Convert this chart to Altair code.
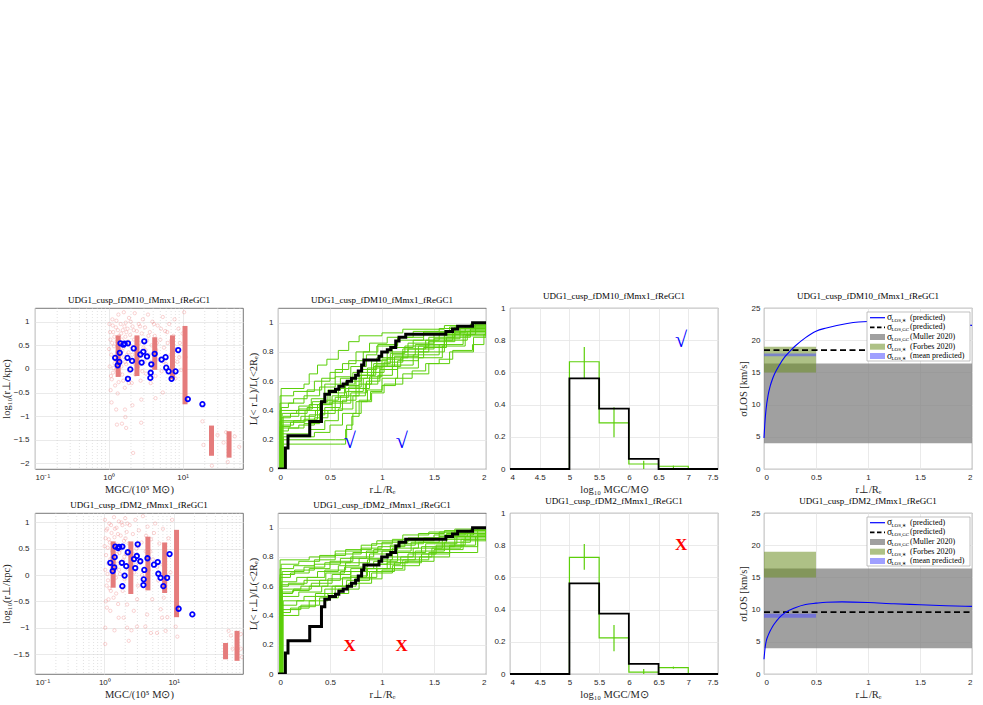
import altair as alt
import pandas as pd

# ------------------------------------------------------------------ data
TITLE_A = "UDG1_cusp_fDM10_fMmx1_fReGC1"
TITLE_B = "UDG1_cusp_fDM2_fMmx1_fReGC1"

# observed globular clusters: mass [1e5 Msun] and log10 projected radius [kpc]
gc_mass = [1.22, 1.32, 1.39, 1.41, 1.44, 1.58, 1.64, 1.82, 1.79, 1.82, 1.96, 2.07,
           2.18, 2.68, 2.79, 2.94, 3.03, 3.30, 3.70, 3.77, 3.66, 4.19, 5.20, 5.89,
           6.01, 6.47, 7.10, 8.04, 8.73, 11.8, 18.6]
gc_logr = [0.234, 0.076, 0.148, 0.341, 0.542, 0.513, 0.535, 0.542, 0.234, -0.21, -0.01, 0.17,
           0.434, 0.305, 0.134, 0.363, 0.585, 0.263, -0.081, 0.098, -0.19, 0.32, 0.198, 0.248,
           0.026, -0.052, -0.21, -0.052, 0.399, -0.64, -0.747]

# radial spread of simulated GCs per mass bin
bars_a_mass = [1.34, 2.41, 4.20, 7.30, 10.8, 24.7, 42.7]
bars_a_lo = [-0.17, -0.15, -0.02, -0.22, -0.75, -1.84, -1.88]
bars_a_hi = [0.71, 0.71, 0.67, 0.71, 0.91, -1.20, -1.32]
bars_b_mass = [1.34, 2.41, 4.25, 7.41, 11.0, 56.0, 82.0]
bars_b_lo = [-0.24, -0.36, -0.29, -0.34, -0.80, -1.60, -1.63]
bars_b_hi = [0.64, 0.64, 0.73, 0.62, 0.86, -1.29, -1.06]

# simulated GC realisations (mass, log10 r)
cloud_a = [
    (1.02, 0.95), (1.05, 0.62), (1.08, 0.30), (1.03, 0.05), (1.10, -0.22), (1.06, -0.45),
    (1.12, 1.05), (1.15, 0.78), (1.18, 0.48), (1.20, 0.12), (1.14, -0.08), (1.22, -0.35),
    (1.25, 0.88), (1.28, 0.58), (1.30, 0.35), (1.26, -0.02), (1.32, -0.52), (1.35, 1.15),
    (1.38, 0.70), (1.40, 0.40), (1.42, 0.20), (1.36, -0.28), (1.45, 0.95), (1.50, 0.62),
    (1.48, 0.05), (1.52, -0.12), (1.55, 0.82), (1.58, 0.45), (1.60, 1.20), (1.62, 0.25),
    (1.65, -0.40), (1.68, 0.68), (1.70, 0.98), (1.72, 0.10), (1.75, 0.55), (1.78, -0.18),
    (1.80, 0.85), (1.85, 0.35), (1.88, 1.08), (1.90, -0.05), (1.95, 0.72), (2.00, 0.48),
    (2.05, -0.30), (2.10, 0.90), (2.15, 0.18), (2.20, 0.62), (2.25, 1.18), (2.30, -0.12),
    (2.35, 0.40), (2.40, 0.80), (2.50, 0.05), (2.55, 0.95), (2.60, 0.55), (2.70, -0.25),
    (2.75, 0.28), (2.80, 0.75), (2.90, 1.05), (2.95, 0.45), (3.05, 0.15), (3.10, 0.88),
    (3.20, -0.10), (3.30, 0.60), (3.40, 1.15), (3.50, 0.30), (3.60, 0.78), (3.70, -0.30),
    (3.80, 0.50), (3.90, 1.00), (4.00, 0.05), (4.20, 0.70), (4.30, -0.15), (4.40, 0.40),
    (4.60, 0.92), (4.80, 0.20), (5.00, 0.62), (5.20, -0.05), (5.40, 1.10), (5.60, 0.45),
    (5.80, 0.80), (6.00, 0.10), (6.30, 0.55), (6.60, 0.95), (6.90, 0.30), (7.20, -0.12),
    (7.50, 0.70), (7.80, 1.05), (8.10, 0.40), (8.50, 0.15), (8.80, 0.85), (9.20, 0.55),
    (9.60, -0.02), (10.0, 0.75), (10.5, 1.20), (11.0, 0.25),
    (1.01, 0.42), (1.04, 0.78), (1.07, -0.15), (1.11, 0.55), (1.13, 0.92), (1.16, 0.02),
    (1.19, 0.68), (1.23, 0.25), (1.27, 1.02), (1.31, 0.15), (1.33, 0.82), (1.37, 0.50),
    (1.41, -0.10), (1.44, 0.30), (1.47, 0.75), (1.53, 0.38), (1.57, -0.25), (1.63, 0.90),
    (1.67, 0.15), (1.73, 0.78), (1.77, 0.30), (1.83, 0.58), (1.87, -0.30), (1.93, 0.20),
    (1.98, 1.00), (2.08, 0.30), (2.18, 0.82), (2.28, 0.10), (2.45, 0.65), (2.65, 0.90),
    (2.85, -0.05), (3.15, 0.40), (3.45, 0.70), (3.75, 0.15), (4.10, 0.95), (4.50, 0.55),
    (5.10, 0.85), (5.50, 0.15), (6.20, 0.78), (7.00, 0.60), (8.00, -0.20), (9.00, 0.25),
    (1.09, -0.71), (1.26, -0.86), (1.66, -0.86), (1.29, -1.18), (1.51, -1.16), (1.72, -1.25),
    (1.68, -1.02), (2.09, -0.77), (2.76, -0.65), (2.75, -1.14), (2.14, -1.78), (4.30, -0.62),
    (5.40, -0.50), (18.6, -1.11), (19.2, -1.61), (29.8, -1.40), (39.0, -1.34), (36.0, -1.56),
    (41.0, -1.97), (51.0, -1.43), (58.6, -1.65), (25.0, -2.05),
]
cloud_b = [
    (1.02, 1.05), (1.04, 0.70), (1.06, 0.38), (1.03, 0.10), (1.08, -0.20), (1.05, -0.50),
    (1.09, -0.62), (1.03, -1.00), (1.03, -1.31), (1.10, 0.88), (1.12, 0.52), (1.14, 0.22),
    (1.13, -0.10), (1.15, -0.46), (1.18, 0.98), (1.20, 0.62), (1.22, 0.30), (1.22, -0.68),
    (1.24, -0.30), (1.27, 0.80), (1.30, 0.45), (1.32, 0.05), (1.34, -0.15), (1.36, -0.43),
    (1.38, 1.10), (1.40, 0.72), (1.40, -1.05), (1.43, 0.35), (1.46, 0.12), (1.48, -0.35),
    (1.50, 0.90), (1.53, 0.58), (1.56, 0.22), (1.58, -0.55), (1.61, -0.81), (1.62, 1.02),
    (1.65, 0.42), (1.68, 0.02), (1.72, 0.75), (1.75, -0.22), (1.78, 0.55), (1.82, 0.95),
    (1.86, 0.28), (1.90, -0.81), (1.92, 0.65), (1.96, -0.08), (2.00, 1.08), (2.05, 0.40),
    (2.10, 0.82), (2.13, -0.56), (2.13, -1.00), (2.18, 0.12), (2.25, -1.25), (2.25, 0.60),
    (2.32, 0.95), (2.40, -0.30), (2.46, -1.05), (2.50, 0.30), (2.58, 0.78), (2.66, -0.68),
    (2.70, 0.05), (2.80, 1.05), (2.90, 0.50), (2.96, -0.98), (2.97, -0.46), (3.05, -0.20),
    (3.15, 0.85), (3.30, 0.25), (3.45, 0.62), (3.60, 1.12), (3.75, -0.12), (3.90, -0.98),
    (3.95, 0.45), (4.14, -0.75), (4.20, 0.92), (4.40, 0.10), (4.70, -1.10), (4.70, 0.68),
    (4.90, -0.46), (5.00, 0.30), (5.40, 0.98), (5.76, -1.10), (5.80, 0.15), (6.20, 0.60),
    (6.50, -0.65), (6.80, -0.81), (7.00, 0.88), (7.20, -0.43), (7.50, 0.35), (7.65, -1.06),
    (8.10, -0.80), (8.40, 0.70), (9.00, 0.05), (9.50, 1.05), (10.7, -0.98), (11.3, -1.17),
    (62.0, -1.06), (67.0, -1.15), (71.0, -1.40), (93.0, -1.12), (93.0, -1.40), (97.0, -1.56),
    (1.01, 0.55), (1.07, 0.85), (1.11, 0.02), (1.16, 0.68), (1.19, -0.25), (1.25, 0.95),
    (1.28, 0.15), (1.33, 0.60), (1.37, 0.25), (1.42, 0.88), (1.47, -0.05), (1.52, 0.40),
    (1.57, 0.78), (1.63, 0.10), (1.70, 0.48), (1.77, 1.00), (1.84, -0.30), (1.94, 0.35),
    (2.02, 0.70), (2.15, 0.98), (2.28, 0.20), (2.45, 0.55), (2.62, 0.40), (2.85, 0.20),
    (3.10, 0.55), (3.50, 0.00), (4.00, 0.75), (4.60, 0.45), (5.20, 0.80), (6.00, -0.10),
    (6.90, 0.20),
]

# observed cumulative luminosity profile L(<r)/L(<2Re)
obs_cum = [(0.0, 0.0), (0.071, 0.143), (0.096, 0.227), (0.305, 0.325), (0.418, 0.46),
           (0.45, 0.51), (0.495, 0.53), (0.553, 0.545), (0.585, 0.565), (0.627, 0.58),
           (0.666, 0.60), (0.707, 0.62), (0.746, 0.64), (0.772, 0.67), (0.804, 0.71),
           (0.826, 0.745), (0.971, 0.77), (0.997, 0.80), (1.051, 0.815), (1.084, 0.83),
           (1.132, 0.875), (1.164, 0.90), (1.228, 0.92), (1.614, 0.94), (1.678, 0.957),
           (1.727, 0.975), (1.871, 1.0), (2.0, 1.0)]

# simulated cumulative profiles, fDM10
sim_cum_a = [
    [(0, 0), (0.03, 0.55), (0.25, 0.58), (0.30, 0.65), (0.38, 0.71), (0.47, 0.75), (0.58, 0.81), (0.68, 0.87), (0.78, 0.91), (1.0, 0.93), (1.2, 0.955), (1.6, 0.98), (1.85, 0.99), (2, 1)],
    [(0, 0), (0.02, 0.50), (0.15, 0.53), (0.35, 0.60), (0.50, 0.66), (0.62, 0.72), (0.75, 0.80), (0.88, 0.86), (1.05, 0.90), (1.3, 0.94), (1.55, 0.96), (1.8, 0.98), (2, 1)],
    [(0, 0), (0.03, 0.42), (0.10, 0.45), (0.25, 0.50), (0.40, 0.56), (0.55, 0.63), (0.70, 0.70), (0.85, 0.78), (0.95, 0.84), (1.15, 0.88), (1.4, 0.93), (1.65, 0.97), (1.9, 0.99), (2, 1)],
    [(0, 0), (0.02, 0.40), (0.20, 0.43), (0.32, 0.48), (0.45, 0.58), (0.60, 0.62), (0.72, 0.66), (0.90, 0.74), (1.05, 0.80), (1.25, 0.86), (1.5, 0.92), (1.75, 0.96), (2, 1)],
    [(0, 0), (0.04, 0.38), (0.18, 0.40), (0.30, 0.44), (0.50, 0.52), (0.65, 0.60), (0.80, 0.68), (0.95, 0.76), (1.1, 0.83), (1.3, 0.88), (1.55, 0.93), (1.8, 0.97), (2, 1)],
    [(0, 0), (0.03, 0.35), (0.12, 0.38), (0.28, 0.42), (0.42, 0.47), (0.58, 0.55), (0.75, 0.64), (0.92, 0.72), (1.08, 0.79), (1.22, 0.84), (1.45, 0.90), (1.7, 0.95), (2, 1)],
    [(0, 0), (0.02, 0.33), (0.22, 0.36), (0.36, 0.40), (0.52, 0.46), (0.66, 0.53), (0.82, 0.62), (0.98, 0.70), (1.12, 0.77), (1.35, 0.84), (1.6, 0.91), (1.85, 0.96), (2, 1)],
    [(0, 0), (0.04, 0.30), (0.15, 0.33), (0.30, 0.37), (0.45, 0.42), (0.60, 0.50), (0.78, 0.58), (0.90, 0.66), (1.02, 0.73), (1.2, 0.80), (1.45, 0.87), (1.7, 0.93), (2, 1)],
    [(0, 0), (0.03, 0.28), (0.20, 0.30), (0.35, 0.35), (0.48, 0.40), (0.62, 0.47), (0.75, 0.55), (0.88, 0.63), (1.0, 0.70), (1.18, 0.76), (1.4, 0.83), (1.62, 0.90), (1.85, 0.95), (2, 1)],
    [(0, 0), (0.02, 0.26), (0.10, 0.28), (0.25, 0.31), (0.40, 0.38), (0.55, 0.45), (0.70, 0.52), (0.85, 0.60), (0.98, 0.68), (1.15, 0.74), (1.35, 0.80), (1.6, 0.88), (1.82, 0.94), (2, 1)],
    [(0, 0), (0.03, 0.24), (0.30, 0.27), (0.45, 0.33), (0.58, 0.41), (0.72, 0.50), (0.84, 0.58), (0.96, 0.64), (1.1, 0.71), (1.3, 0.78), (1.55, 0.85), (1.78, 0.92), (2, 1)],
    [(0, 0), (0.05, 0.22), (0.35, 0.25), (0.50, 0.30), (0.62, 0.38), (0.75, 0.46), (0.86, 0.54), (1.0, 0.62), (1.15, 0.69), (1.35, 0.76), (1.58, 0.84), (1.8, 0.91), (2, 1)],
    [(0, 0), (0.04, 0.20), (0.55, 0.20), (0.66, 0.30), (0.72, 0.38), (0.80, 0.46), (0.90, 0.52), (1.02, 0.58), (1.2, 0.65), (1.45, 0.72), (1.65, 0.80), (1.88, 0.90), (2, 1)],
    [(0, 0), (0.03, 0.17), (0.60, 0.17), (0.65, 0.27), (0.71, 0.36), (0.78, 0.47), (0.89, 0.53), (1.0, 0.57), (1.13, 0.62), (1.29, 0.67), (1.42, 0.72), (1.55, 0.75), (1.68, 0.81), (1.87, 0.85), (1.98, 0.92), (2, 1)],
    [(0, 0), (0.02, 0.45), (0.15, 0.48), (0.28, 0.54), (0.42, 0.62), (0.55, 0.68), (0.68, 0.74), (0.82, 0.80), (0.96, 0.85), (1.15, 0.90), (1.4, 0.94), (1.7, 0.97), (2, 1)],
    [(0, 0), (0.03, 0.32), (0.25, 0.34), (0.38, 0.44), (0.52, 0.50), (0.64, 0.57), (0.78, 0.64), (0.92, 0.70), (1.05, 0.76), (1.25, 0.82), (1.5, 0.89), (1.75, 0.94), (2, 1)],
    [(0, 0), (0.05, 0.36), (0.20, 0.41), (0.33, 0.46), (0.48, 0.54), (0.60, 0.58), (0.74, 0.62), (0.86, 0.69), (1.0, 0.75), (1.2, 0.82), (1.42, 0.88), (1.68, 0.94), (2, 1)],
    [(0, 0), (0.02, 0.29), (0.12, 0.32), (0.26, 0.40), (0.40, 0.45), (0.55, 0.49), (0.68, 0.56), (0.80, 0.64), (0.94, 0.71), (1.1, 0.78), (1.32, 0.85), (1.6, 0.92), (1.9, 0.97), (2, 1)],
]

# simulated cumulative profiles, fDM2
sim_cum_b = [
    [(0, 0), (0.02, 0.78), (0.30, 0.80), (0.55, 0.84), (0.80, 0.88), (0.95, 0.91), (1.2, 0.95), (1.45, 0.97), (1.7, 0.99), (2, 1)],
    [(0, 0), (0.03, 0.75), (0.20, 0.77), (0.40, 0.81), (0.65, 0.85), (0.90, 0.89), (1.1, 0.92), (1.35, 0.96), (1.6, 0.98), (2, 1)],
    [(0, 0), (0.02, 0.72), (0.15, 0.74), (0.35, 0.78), (0.55, 0.82), (0.80, 0.86), (1.0, 0.90), (1.25, 0.93), (1.55, 0.97), (1.85, 0.99), (2, 1)],
    [(0, 0), (0.04, 0.70), (0.25, 0.73), (0.45, 0.76), (0.70, 0.80), (0.92, 0.85), (1.15, 0.89), (1.4, 0.93), (1.7, 0.97), (2, 1)],
    [(0, 0), (0.02, 0.66), (0.12, 0.69), (0.30, 0.72), (0.50, 0.77), (0.72, 0.83), (0.96, 0.87), (1.22, 0.91), (1.5, 0.95), (1.8, 0.98), (2, 1)],
    [(0, 0), (0.03, 0.63), (0.18, 0.66), (0.38, 0.70), (0.58, 0.74), (0.78, 0.79), (1.0, 0.84), (1.28, 0.90), (1.55, 0.94), (1.82, 0.98), (2, 1)],
    [(0, 0), (0.02, 0.60), (0.10, 0.62), (0.28, 0.66), (0.45, 0.71), (0.65, 0.76), (0.88, 0.82), (1.1, 0.86), (1.35, 0.90), (1.62, 0.95), (1.88, 0.98), (2, 1)],
    [(0, 0), (0.04, 0.58), (0.22, 0.60), (0.40, 0.64), (0.60, 0.70), (0.82, 0.75), (1.05, 0.80), (1.3, 0.86), (1.58, 0.92), (1.85, 0.96), (2, 1)],
    [(0, 0), (0.03, 0.56), (0.15, 0.58), (0.32, 0.62), (0.52, 0.68), (0.70, 0.72), (0.92, 0.77), (1.15, 0.83), (1.42, 0.89), (1.72, 0.94), (2, 1)],
    [(0, 0), (0.02, 0.53), (0.20, 0.56), (0.42, 0.60), (0.62, 0.66), (0.85, 0.72), (1.08, 0.78), (1.32, 0.84), (1.6, 0.90), (1.85, 0.95), (2, 1)],
    [(0, 0), (0.05, 0.50), (0.25, 0.53), (0.45, 0.58), (0.66, 0.64), (0.88, 0.70), (1.12, 0.76), (1.38, 0.82), (1.65, 0.88), (1.9, 0.94), (2, 1)],
    [(0, 0), (0.03, 0.47), (0.18, 0.50), (0.36, 0.55), (0.55, 0.60), (0.75, 0.66), (0.95, 0.72), (1.2, 0.78), (1.45, 0.83), (1.92, 1.0), (2, 1)],
    [(0, 0), (0.04, 0.44), (0.22, 0.47), (0.40, 0.52), (0.58, 0.58), (0.78, 0.65), (1.0, 0.71), (1.22, 0.77), (1.5, 0.85), (1.78, 0.91), (2, 1)],
    [(0, 0), (0.02, 0.42), (0.12, 0.45), (0.30, 0.50), (0.48, 0.55), (0.68, 0.62), (0.90, 0.69), (1.1, 0.74), (1.36, 0.80), (1.65, 0.87), (1.92, 0.95), (2, 1)],
    [(0, 0), (0.03, 0.40), (0.20, 0.46), (0.36, 0.53), (0.52, 0.60), (0.70, 0.67), (0.86, 0.72), (1.05, 0.76), (1.25, 0.82), (1.52, 0.88), (1.8, 0.94), (2, 1)],
    [(0, 0), (0.02, 0.68), (0.16, 0.71), (0.35, 0.75), (0.60, 0.79), (0.85, 0.84), (1.08, 0.88), (1.32, 0.92), (1.62, 0.96), (2, 1)],
    [(0, 0), (0.03, 0.61), (0.25, 0.64), (0.46, 0.69), (0.64, 0.73), (0.86, 0.78), (1.1, 0.83), (1.38, 0.87), (1.7, 0.93), (2, 1)],
    [(0, 0), (0.04, 0.55), (0.14, 0.57), (0.30, 0.60), (0.48, 0.65), (0.70, 0.70), (0.95, 0.75), (1.18, 0.80), (1.48, 0.86), (1.76, 0.92), (2, 1)],
]

# GC mass function, bins in log10 M
hist_edges = [4.0, 5.0, 5.5, 6.0, 6.5, 7.0, 7.5]
hist_obs = [0.0, 0.5625, 0.375, 0.0625, 0.0, 0.0]
hist_sim_a = [0.0, 0.666, 0.286, 0.031, 0.017, 0.0]
hist_sim_b = [0.0, 0.725, 0.225, 0.012, 0.040, 0.0]
err_centers = [5.25, 5.75, 6.25, 6.75]
err_a_lo = [0.564, 0.197, 0.0, 0.006]
err_a_hi = [0.757, 0.384, 0.052, 0.021]
err_b_lo = [0.647, 0.141, 0.0, 0.033]
err_b_hi = [0.807, 0.304, 0.031, 0.046]

# velocity dispersion profiles [km/s]
sig_r_a = [0, 0.01, 0.02, 0.04, 0.06, 0.08, 0.1, 0.15, 0.2, 0.25, 0.3, 0.4, 0.5, 0.6, 0.8, 1.0, 1.2, 1.5, 1.8, 2.0]
sig_v_a = [4.8, 7.5, 9.3, 11.5, 12.9, 13.9, 14.7, 16.2, 17.4, 18.3, 19.1, 20.4, 21.4, 21.9, 22.6, 22.9, 22.9, 22.8, 22.5, 22.3]
sig_r_b = [0, 0.01, 0.02, 0.04, 0.06, 0.08, 0.1, 0.15, 0.2, 0.3, 0.4, 0.5, 0.6, 0.75, 1.0, 1.25, 1.5, 1.75, 2.0]
sig_v_b = [2.3, 4.0, 5.0, 6.0, 6.7, 7.3, 7.8, 8.8, 9.5, 10.3, 10.8, 11.0, 11.15, 11.2, 11.1, 10.9, 10.75, 10.6, 10.5]
sig_gc_a = 18.45
sig_gc_b = 9.62
sig_mean_a = (17.5, 17.95)
sig_mean_b = (8.75, 9.35)
muller_gc = (4.0, 16.4)
forbes_star = (15.0, 19.0)

# ------------------------------------------------------------------ style
W, H = 208, 161
SERIF = "Liberation Serif"
SANS = "Liberation Sans"
INK = "#262626"
GREEN = "#5ccf0a"
SALMON = "#e57c7c"
GRID = "#e4e4e4"


def axis(title, values, fmt=None, expr=None, lp=4, tp=3):
    kw = dict(title=title, values=values, grid=True, gridColor=GRID, gridWidth=0.8,
              domain=False, ticks=False, labelFont=SANS, labelFontSize=8,
              labelColor=INK, labelPadding=lp, titleFont=SERIF, titleFontSize=10.5,
              titleFontWeight="normal", titleColor=INK, titlePadding=tp,
              labelOverlap=False)
    if fmt:
        kw["format"] = fmt
    if expr:
        kw["labelExpr"] = expr
    return alt.Axis(**kw)


def title(text):
    return alt.TitleParams(text, font=SERIF, fontSize=9, fontWeight="normal",
                           color="black", offset=3)


def steps(curves):
    rows = []
    for c, pts in enumerate(curves):
        for i, (x, y) in enumerate(pts):
            rows.append({"c": c, "i": i, "x": x, "y": y})
    return pd.DataFrame(rows)


# ------------------------------------------------------------------ panels
def scatter_panel(ttl, cloud, bm, blo, bhi, xmax, ydom, yvals, minor):
    xs = alt.Scale(type="log", domain=[0.1, xmax], nice=False)
    ys = alt.Scale(domain=ydom, nice=False, zero=False)
    xa = axis("MGC/(10⁵ M⊙)", [0.1, 1, 10],
              expr="datum.value < 0.5 ? '10⁻¹' : (datum.value < 5 ? '10⁰' : '10¹')")
    ya = axis("log₁₀(r⊥/kpc)", yvals, fmt="~g", lp=6, tp=2)
    X = alt.X("x:Q", scale=xs, axis=xa)
    Y = alt.Y("y:Q", scale=ys, axis=ya)

    minor_df = pd.DataFrame({"x": minor})
    grid_minor = alt.Chart(minor_df).mark_rule(
        color="#cfcfcf", strokeWidth=0.6, strokeDash=[1, 2]).encode(x=X)

    cl = pd.DataFrame(cloud, columns=["x", "y"])
    cloud_l = alt.Chart(cl).mark_point(
        shape="circle", filled=False, size=11, strokeWidth=0.6,
        color="#f07070", opacity=0.5, clip=True).encode(x=X, y=Y)

    bd = pd.DataFrame({"x": bm, "y": blo, "y2": bhi})
    bars = alt.Chart(bd).mark_rule(color=SALMON, strokeWidth=5, clip=True).encode(
        x=X, y=Y, y2="y2:Q")

    gd = pd.DataFrame({"x": gc_mass, "y": gc_logr})
    gcs = alt.Chart(gd).mark_point(
        shape="circle", filled=False, size=20, strokeWidth=1.8, color="#0000ff",
        opacity=1).encode(x=X, y=Y)

    return alt.layer(grid_minor, cloud_l, bars, gcs).properties(
        width=W, height=H, title=title(ttl))


def cum_panel(ttl, sims, mark_text, mark_color, mark_font_weight, mark_size):
    xs = alt.Scale(domain=[0, 2], nice=False)
    ys = alt.Scale(domain=[0, 1.1], nice=False)
    X = alt.X("x:Q", scale=xs, axis=axis("r⊥/Rₑ", [0, 0.5, 1, 1.5, 2], fmt="~g"))
    Y = alt.Y("y:Q", scale=ys,
              axis=axis("L(< r⊥)/L(<2Rₑ)", [0, 0.2, 0.4, 0.6, 0.8, 1], fmt="~g", lp=5, tp=3))

    sim = alt.Chart(steps(sims)).mark_line(
        interpolate="step-after", color=GREEN, strokeWidth=1, clip=True).encode(
        x=X, y=Y, detail="c:N", order="i:Q")
    obs = alt.Chart(steps([obs_cum])).mark_line(
        interpolate="step-after", color="black", strokeWidth=3, clip=True).encode(
        x=X, y=Y, order="i:Q")
    md = pd.DataFrame({"x": [0.69, 1.19], "y": [0.19, 0.19], "t": [mark_text, mark_text]})
    marks = alt.Chart(md).mark_text(
        color=mark_color, font=SERIF, fontSize=mark_size, fontWeight=mark_font_weight,
        baseline="middle", align="center").encode(x=X, y=Y, text="t:N")
    return alt.layer(sim, obs, marks).properties(width=W, height=H, title=title(ttl))


def hist_panel(ttl, sim_h, elo, ehi, mark_text, mark_color, mark_font_weight, mark_size):
    xs = alt.Scale(domain=[4, 7.5], nice=False)
    ys = alt.Scale(domain=[0, 1], nice=False)
    X = alt.X("x:Q", scale=xs,
              axis=axis("log₁₀ MGC/M⊙", [4, 4.5, 5, 5.5, 6, 6.5, 7, 7.5], fmt="~g"))
    Y = alt.Y("y:Q", scale=ys,
              axis=axis(None, [0, 0.2, 0.4, 0.6, 0.8, 1], fmt="~g", lp=5))

    sim_df = pd.DataFrame({"x": hist_edges, "y": sim_h + [sim_h[-1]]})
    sim = alt.Chart(sim_df).mark_line(
        interpolate="step-after", color=GREEN, strokeWidth=1.2).encode(x=X, y=Y)
    ed = pd.DataFrame({"x": err_centers, "y": elo, "y2": ehi})
    err = alt.Chart(ed).mark_rule(color=GREEN, strokeWidth=1.2).encode(
        x=X, y=Y, y2="y2:Q")
    obs_df = pd.DataFrame({"x": hist_edges, "y": hist_obs + [hist_obs[-1]]})
    obs = alt.Chart(obs_df).mark_line(
        interpolate="step-after", color="black", strokeWidth=1.8).encode(x=X, y=Y)
    md = pd.DataFrame({"x": [6.88], "y": [0.80], "t": [mark_text]})
    marks = alt.Chart(md).mark_text(
        color=mark_color, font=SERIF, fontSize=mark_size, fontWeight=mark_font_weight,
        baseline="middle", align="center").encode(x=X, y=Y, text="t:N")
    return alt.layer(sim, err, obs, marks).properties(width=W, height=H, title=title(ttl))


def legend_layers():
    one = pd.DataFrame({"k": [0]})
    rows = [9.7, 19.3, 29.0, 38.7, 48.0]
    subs = ["LOS,∗", "LOS,GC", "LOS,GC", "LOS,∗", "LOS,∗"]
    labels = ["(predicted)", "(predicted)", "(Muller 2020)", "(Forbes 2020)",
              "(mean predicted)"]
    out = [alt.Chart(one).mark_rect(fill="white", stroke="#a6a6a6", strokeWidth=0.7).encode(
        x=alt.value(103), x2=alt.value(206), y=alt.value(4), y2=alt.value(53))]
    out.append(alt.Chart(one).mark_rule(color="#0000ff", strokeWidth=1.2).encode(
        x=alt.value(106), x2=alt.value(121), y=alt.value(rows[0])))
    out.append(alt.Chart(one).mark_rule(color="black", strokeWidth=1.8,
                                        strokeDash=[4.5, 2.5]).encode(
        x=alt.value(106), x2=alt.value(121), y=alt.value(rows[1])))
    for r, (col, op) in zip(rows[2:], [("#808080", 0.75), ("#6b8e23", 0.55),
                                       ("#5050ff", 0.55)]):
        out.append(alt.Chart(one).mark_rect(fill=col, opacity=op).encode(
            x=alt.value(106), x2=alt.value(121), y=alt.value(r - 3),
            y2=alt.value(r + 3)))
    for r, s, lab in zip(rows, subs, labels):
        out.append(alt.Chart(one).mark_text(
            text="σ", font=SERIF, fontSize=9.5, align="left", baseline="middle",
            color="black").encode(x=alt.value(123), y=alt.value(r - 0.5)))
        out.append(alt.Chart(one).mark_text(
            text=s, font=SERIF, fontSize=5, align="left", baseline="middle",
            color="black").encode(x=alt.value(127.5), y=alt.value(r + 2)))
        out.append(alt.Chart(one).mark_text(
            text=lab, font=SERIF, fontSize=8, align="left", baseline="middle",
            color="black").encode(x=alt.value(146), y=alt.value(r)))
    return out


def sigma_panel(ttl, sr, sv, sgc, smean):
    xs = alt.Scale(domain=[0, 2], nice=False)
    ys = alt.Scale(domain=[0, 25], nice=False)
    X = alt.X("x:Q", scale=xs, axis=axis("r⊥/Rₑ", [0, 0.5, 1, 1.5, 2], fmt="~g"))
    Y = alt.Y("y:Q", scale=ys,
              axis=axis("σLOS [km/s]", [0, 5, 10, 15, 20, 25], fmt="~g", lp=4, tp=3))

    def band(x0, x1, y0, y1, col, op):
        d = pd.DataFrame({"x": [x0], "x2": [x1], "y": [y0], "y2": [y1]})
        return alt.Chart(d).mark_rect(fill=col, opacity=op).encode(
            x=X, x2="x2:Q", y=Y, y2="y2:Q")

    gray = band(0, 2, muller_gc[0], muller_gc[1], "#808080", 0.75)
    green = band(0, 0.5, forbes_star[0], forbes_star[1], "#6b8e23", 0.55)
    mean = band(0, 0.5, smean[0], smean[1], "#5050ff", 0.55)
    dd = pd.DataFrame({"x": [0, 2], "y": [sgc, sgc]})
    dash = alt.Chart(dd).mark_line(color="black", strokeWidth=1.8,
                                   strokeDash=[6, 3.5]).encode(x=X, y=Y)
    cd = pd.DataFrame({"x": sr, "y": sv})
    curve = alt.Chart(cd).mark_line(color="#0000ff", strokeWidth=1.1,
                                    interpolate="monotone").encode(x=X, y=Y)
    return alt.layer(gray, green, mean, dash, curve, *legend_layers()).properties(
        width=W, height=H, title=title(ttl))


def spacer(w):
    return alt.Chart(pd.DataFrame({"k": [0]})).mark_point(opacity=0).encode(
        x=alt.value(0), y=alt.value(0)).properties(
        width=w, height=H, view=alt.ViewBackground(stroke=None))


minor_a = [0.2, 0.3, 0.4, 0.5, 0.6, 0.7, 0.8, 0.9, 2, 3, 4, 5, 6, 7, 8, 9, 20, 30, 40, 50, 60]
minor_b = minor_a + [70, 80, 90]

CHECK = "√"
CROSS = "X"

row_a = [
    scatter_panel(TITLE_A, cloud_a, bars_a_mass, bars_a_lo, bars_a_hi, 66,
                  [-2.12, 1.29], [-2, -1.5, -1, -0.5, 0, 0.5, 1], minor_a),
    spacer(35),
    cum_panel(TITLE_A, sim_cum_a, CHECK, "#0000ff", "normal", 22),
    spacer(24),
    hist_panel(TITLE_A, hist_sim_a, err_a_lo, err_a_hi, CHECK, "#0000ff", "normal", 22),
    spacer(46),
    sigma_panel(TITLE_A, sig_r_a, sig_v_a, sig_gc_a, sig_mean_a),
]
row_b = [
    scatter_panel(TITLE_B, cloud_b, bars_b_mass, bars_b_lo, bars_b_hi, 100,
                  [-1.88, 1.18], [-1.5, -1, -0.5, 0, 0.5, 1], minor_b),
    spacer(35),
    cum_panel(TITLE_B, sim_cum_b, CROSS, "#ff0000", "bold", 17),
    spacer(24),
    hist_panel(TITLE_B, hist_sim_b, err_b_lo, err_b_hi, CROSS, "#ff0000", "bold", 17),
    spacer(46),
    sigma_panel(TITLE_B, sig_r_b, sig_v_b, sig_gc_b, sig_mean_b),
]

chart = alt.concat(
    *(row_a + row_b), columns=7, spacing={"row": 44, "column": 0},
    bounds="flush", align="each",
).properties(
    padding={"top": 291, "left": 0, "right": 0, "bottom": 0},
    background="white",
).configure_view(stroke="#555555", strokeWidth=0.8)

chart.save("out.html", embed_options={"renderer": "svg", "actions": False})
